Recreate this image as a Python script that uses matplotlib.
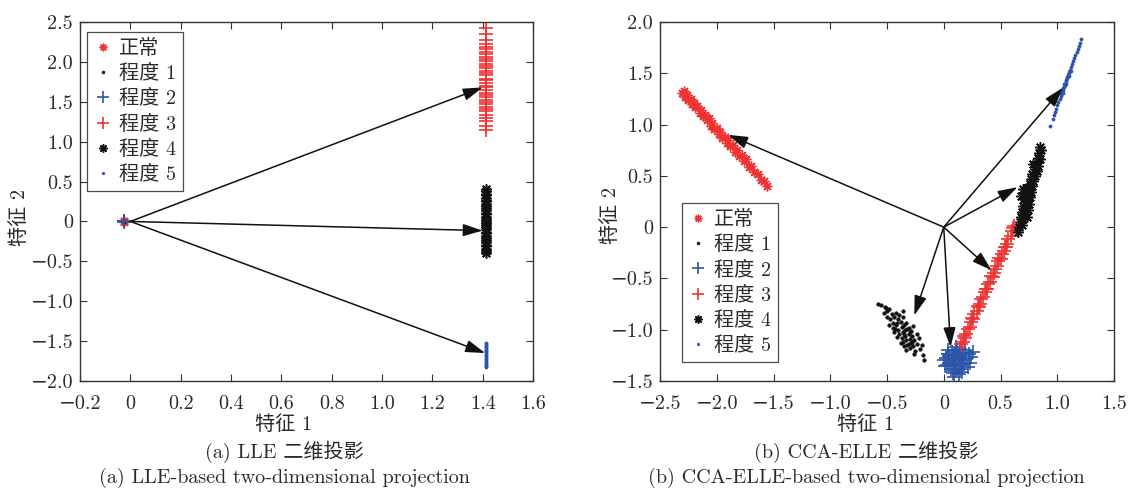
import matplotlib
matplotlib.use("Agg")
import matplotlib.pyplot as plt
from matplotlib.ticker import FuncFormatter, MultipleLocator

plt.rcParams['font.family'] = ['cmr10', 'DejaVu Serif', 'Noto Sans CJK SC']
plt.rcParams['font.size'] = 14.5

RED = '#ee3333'
BLUE = '#2c55a8'
AXC = '#333333'
TXT = '#2a2a2a'
FS = 14.5

labels = ['正常', '程度 1', '程度 2', '程度 3', '程度 4', '程度 5']

# ---- (a) LLE 投影 ----
lle_normal_x = [-0.025, -0.024, -0.026]
lle_normal_y = [0.0, 0.004, -0.004]
lle_g1_x = [-0.025, -0.024, -0.026]
lle_g1_y = [0.0, 0.003, -0.003]
lle_g2_x = [-0.025, -0.024, -0.026]
lle_g2_y = [0.0, 0.004, -0.004]
lle_col_x = 1.414
lle_g3_y = [2.42, 2.35, 2.28, 2.23, 2.19, 2.16, 2.12, 2.10, 2.06, 2.04, 2.01, 1.97, 1.95,
            1.92, 1.88, 1.86, 1.83, 1.79, 1.77, 1.74, 1.70, 1.68, 1.65, 1.61, 1.59, 1.56,
            1.52, 1.50, 1.47, 1.43, 1.41, 1.38, 1.34, 1.30, 1.26, 1.20, 1.15]
lle_g4_y = [0.41, 0.38, 0.35, 0.33, 0.30, 0.27, 0.25, 0.22, 0.19, 0.17, 0.14, 0.11, 0.09,
            0.06, 0.03, 0.01, -0.02, -0.05, -0.07, -0.10, -0.13, -0.15, -0.18, -0.21,
            -0.23, -0.26, -0.29, -0.31, -0.34, -0.37, -0.40]
lle_g5_y = [-1.52, -1.54, -1.56, -1.58, -1.60, -1.62, -1.63, -1.65, -1.67, -1.69, -1.71,
            -1.73, -1.75, -1.77, -1.79, -1.81, -1.83]
lle_tip_x = [1.40, 1.40, 1.41]
lle_tip_y = [1.68, -0.115, -1.65]

# ---- (b) CCA-ELLE 投影 ----
cca_normal_x = [-2.31, -2.29, -2.28, -2.26, -2.25, -2.23, -2.22, -2.20, -2.19, -2.17, -2.15,
                -2.14, -2.12, -2.10, -2.09, -2.07, -2.05, -2.04, -2.02, -2.00, -1.98, -1.97,
                -1.95, -1.93, -1.91, -1.90, -1.88, -1.86, -1.84, -1.82, -1.80, -1.78, -1.76,
                -1.74, -1.72, -1.70, -1.67, -1.64, -1.61, -1.58, -1.56]
cca_normal_y = [1.31, 1.33, 1.27, 1.29, 1.24, 1.25, 1.20, 1.21, 1.17, 1.18, 1.11, 1.14, 1.08,
                1.09, 1.04, 1.06, 0.99, 1.02, 0.96, 0.97, 0.91, 0.93, 0.87, 0.88, 0.82, 0.85,
                0.79, 0.80, 0.73, 0.75, 0.69, 0.70, 0.64, 0.66, 0.59, 0.60, 0.54, 0.52, 0.46,
                0.45, 0.40]
cca_g1_x = [-0.58, -0.55, -0.52, -0.50, -0.53, -0.48, -0.46, -0.50, -0.47, -0.44, -0.42, -0.45,
            -0.42, -0.40, -0.38, -0.43, -0.40, -0.37, -0.35, -0.33, -0.39, -0.36, -0.34, -0.31,
            -0.41, -0.37, -0.34, -0.31, -0.29, -0.36, -0.33, -0.30, -0.28, -0.35, -0.32, -0.29,
            -0.26, -0.30, -0.27, -0.24, -0.33, -0.25, -0.21, -0.18, -0.17, -0.24, -0.27, -0.44,
            -0.48, -0.51, -0.39, -0.36, -0.32, -0.28, -0.38, -0.41, -0.35, -0.30, -0.22, -0.26,
            -0.36, -0.45, -0.31, -0.19]
cca_g1_y = [-0.75, -0.76, -0.78, -0.82, -0.84, -0.80, -0.85, -0.88, -0.90, -0.88, -0.84, -0.93,
            -0.95, -0.90, -0.92, -0.99, -1.00, -0.97, -0.95, -0.93, -1.04, -1.02, -1.00, -0.98,
            -1.07, -1.08, -1.06, -1.04, -1.01, -1.12, -1.10, -1.09, -1.06, -1.16, -1.15, -1.13,
            -1.10, -1.18, -1.16, -1.14, -1.20, -1.21, -1.19, -1.25, -1.30, -1.04, -0.96, -1.02,
            -0.95, -0.79, -0.86, -0.88, -0.99, -1.12, -1.13, -0.93, -1.04, -1.02, -1.08, -1.24,
            -0.82, -0.98, -1.14, -1.15]
cca_g2_x = [0.02, 0.04, 0.05, 0.07, 0.08, 0.09, 0.10, 0.11, 0.12, 0.13, 0.14, 0.15, 0.16, 0.06,
            0.08, 0.10, 0.12, 0.03, 0.00, 0.05, 0.11, 0.14, 0.17, 0.18, 0.20, 0.22, 0.24, 0.26,
            0.21, 0.15, 0.09, 0.13, 0.07, 0.19, 0.04, 0.01, 0.16, 0.23]
cca_g2_y = [-1.28, -1.24, -1.32, -1.22, -1.28, -1.35, -1.25, -1.31, -1.20, -1.27, -1.34, -1.23,
            -1.30, -1.38, -1.42, -1.40, -1.38, -1.34, -1.30, -1.26, -1.17, -1.19, -1.25, -1.33,
            -1.29, -1.24, -1.27, -1.22, -1.36, -1.38, -1.46, -1.43, -1.30, -1.20, -1.20, -1.35,
            -1.41, -1.32]
cca_g3_x = [0.15, 0.17, 0.18, 0.20, 0.21, 0.23, 0.24, 0.26, 0.27, 0.29, 0.30, 0.32, 0.33, 0.35,
            0.36, 0.38, 0.39, 0.41, 0.42, 0.44, 0.45, 0.47, 0.48, 0.50, 0.51, 0.53, 0.54, 0.56,
            0.57, 0.59, 0.60, 0.62, 0.19, 0.25, 0.31, 0.37, 0.43, 0.49, 0.55, 0.61]
cca_g3_y = [-1.14, -1.12, -1.06, -1.04, -0.99, -0.97, -0.92, -0.90, -0.85, -0.82, -0.77, -0.75,
            -0.70, -0.68, -0.63, -0.60, -0.55, -0.53, -0.48, -0.45, -0.41, -0.38, -0.33, -0.31,
            -0.26, -0.23, -0.19, -0.16, -0.12, -0.09, -0.04, 0.01, -1.08, -0.89, -0.78, -0.60,
            -0.49, -0.30, -0.19, -0.01]
cca_g4_x = [0.65, 0.66, 0.67, 0.69, 0.68, 0.70, 0.69, 0.71, 0.70, 0.72, 0.74, 0.71, 0.73, 0.75,
            0.72, 0.74, 0.76, 0.73, 0.75, 0.77, 0.76, 0.78, 0.77, 0.79, 0.78, 0.80, 0.80, 0.82,
            0.81, 0.83, 0.83, 0.85, 0.84, 0.86, 0.85, 0.70, 0.68, 0.73, 0.79]
cca_g4_y = [-0.05, 0.00, 0.05, 0.02, 0.10, 0.08, 0.15, 0.13, 0.21, 0.19, 0.17, 0.27, 0.25, 0.23,
            0.32, 0.30, 0.29, 0.38, 0.36, 0.34, 0.42, 0.40, 0.47, 0.45, 0.52, 0.50, 0.57, 0.55,
            0.62, 0.60, 0.67, 0.66, 0.72, 0.75, 0.78, 0.37, 0.30, 0.10, 0.62]
cca_g5_x = [0.94, 0.96, 0.97, 0.98, 0.99, 1.00, 1.01, 1.02, 1.03, 1.035, 1.04, 1.045, 1.05,
            1.055, 1.06, 1.065, 1.07, 1.075, 1.08, 1.085, 1.09, 1.095, 1.10, 1.105, 1.11, 1.12,
            1.13, 1.14, 1.15, 1.16, 1.17, 1.18, 1.19, 1.20, 1.21, 1.06, 1.08, 1.10, 1.05, 1.12]
cca_g5_y = [0.99, 1.05, 1.09, 1.12, 1.15, 1.19, 1.22, 1.25, 1.28, 1.30, 1.31, 1.33, 1.34, 1.36,
            1.37, 1.39, 1.40, 1.42, 1.43, 1.45, 1.46, 1.48, 1.50, 1.51, 1.53, 1.56, 1.59, 1.62,
            1.65, 1.68, 1.71, 1.74, 1.77, 1.80, 1.83, 1.40, 1.40, 1.47, 1.31, 1.52]
cca_tip_x = [-1.90, -0.26, 0.06, 0.42, 0.65, 1.05]
cca_tip_y = [0.90, -0.86, -1.17, -0.42, 0.39, 1.36]

styles = [dict(marker=(8, 2, 0), color=RED, ms=7, mew=1.0),
          dict(marker='.', color='#111111', ms=5, mew=0.5),
          dict(marker='+', color=BLUE, ms=10, mew=1.2),
          dict(marker='+', color=RED, ms=10, mew=1.2),
          dict(marker=(8, 2, 0), color='#111111', ms=7.5, mew=1.1),
          dict(marker='.', color=BLUE, ms=4.5, mew=0.5)]


def fmt(v, _):
    if abs(v) < 1e-9:
        return '0'
    return f'{v:.1f}'.replace('-', '\u2212')


def style_axes(ax, xlim, ylim, xstep, ystep):
    ax.set_xlim(*xlim)
    ax.set_ylim(*ylim)
    ax.xaxis.set_major_locator(MultipleLocator(xstep))
    ax.yaxis.set_major_locator(MultipleLocator(ystep))
    ax.xaxis.set_major_formatter(FuncFormatter(fmt))
    ax.yaxis.set_major_formatter(FuncFormatter(fmt))
    ax.tick_params(direction='in', top=True, right=True, length=5, width=0.8,
                   colors=AXC, labelsize=FS, labelcolor=TXT)
    ax.tick_params(axis='x', pad=10)
    ax.tick_params(axis='y', pad=5)
    for s in ax.spines.values():
        s.set_color(AXC)
        s.set_linewidth(1.0)


def arrows(ax, tx, ty):
    for x, y in zip(tx, ty):
        ax.annotate('', xy=(x, y), xytext=(0, 0),
                    arrowprops=dict(arrowstyle='-|>,head_length=0.8,head_width=0.25',
                                    mutation_scale=15, color='#111111', lw=1.1,
                                    shrinkA=0, shrinkB=0), zorder=5)


fig = plt.figure(figsize=(11.29, 4.90), dpi=100)
ax1 = fig.add_axes([80 / 1129, 1 - 381 / 490, 453 / 1129, 359 / 490])
ax2 = fig.add_axes([660 / 1129, 1 - 381 / 490, 454 / 1129, 359 / 490])

lle_data = [(lle_normal_x, lle_normal_y),
            (lle_g1_x, lle_g1_y),
            (lle_g2_x, lle_g2_y),
            ([lle_col_x] * len(lle_g3_y), lle_g3_y),
            ([lle_col_x] * len(lle_g4_y), lle_g4_y),
            ([lle_col_x] * len(lle_g5_y), lle_g5_y)]
cca_data = [(cca_normal_x, cca_normal_y), (cca_g1_x, cca_g1_y), (cca_g2_x, cca_g2_y),
            (cca_g3_x, cca_g3_y), (cca_g4_x, cca_g4_y), (cca_g5_x, cca_g5_y)]

for ax, data in [(ax1, lle_data), (ax2, cca_data)]:
    for (x, y), st, lab in zip(data, styles, labels):
        ax.plot(x, y, ls='none', label=lab, **st)

arrows(ax1, lle_tip_x, lle_tip_y)
arrows(ax2, cca_tip_x, cca_tip_y)

style_axes(ax1, (-0.2, 1.6), (-2.0, 2.5), 0.2, 0.5)
style_axes(ax2, (-2.5, 1.5), (-1.5, 2.0), 0.5, 0.5)

leg_kw = dict(frameon=True, fancybox=False, edgecolor='#222222', fontsize=FS,
              handlelength=0.9, handletextpad=0.35, labelspacing=0.3,
              borderpad=0.35, borderaxespad=0, numpoints=1, markerscale=0.8)
l1 = ax1.legend(loc='upper left', bbox_to_anchor=(7 / 453, 1 - 10 / 359), **leg_kw)
l2 = ax2.legend(loc='lower left', bbox_to_anchor=(22 / 454, 19 / 359), **leg_kw)
for lg in (l1, l2):
    lg.get_frame().set_linewidth(0.9)
    for t in lg.get_texts():
        t.set_color(TXT)

# 轴标签与图注
fig.text(20 / 1129, 1 - 218 / 490, '特征 2', rotation=90, ha='center', va='center',
         fontsize=FS, color=TXT)
fig.text(611 / 1129, 1 - 215 / 490, '特征 2', rotation=90, ha='center', va='center',
         fontsize=FS, color=TXT)
for cx, cap_cn, cap_en in [(284, '(a) LLE 二维投影', '(a) LLE-based two-dimensional projection'),
                           (866, '(b) CCA-ELLE 二维投影',
                            '(b) CCA-ELLE-based two-dimensional projection')]:
    fig.text(cx / 1129, 1 - 425 / 490, '特征 1', ha='center', va='center', fontsize=FS, color=TXT)
    fig.text(cx / 1129, 1 - 452 / 490, cap_cn, ha='center', va='center', fontsize=FS, color=TXT)
    fig.text(cx / 1129, 1 - 478 / 490, cap_en, ha='center', va='center', fontsize=FS, color=TXT)

fig.savefig('out.png', dpi=100, facecolor='white')
